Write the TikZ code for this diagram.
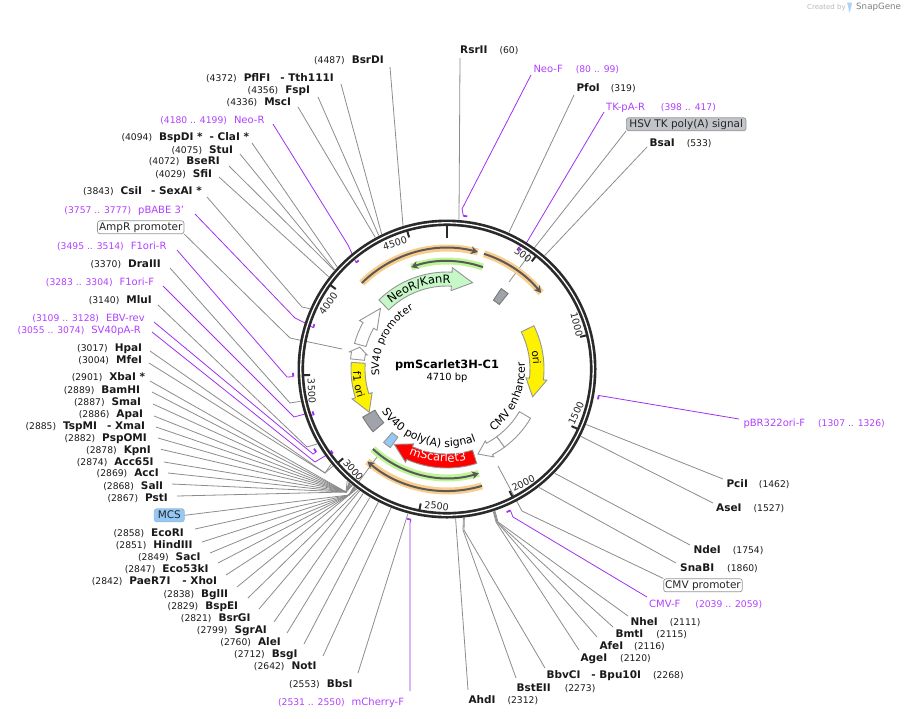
\documentclass[tikz,border=0pt]{standalone}
\usepackage{fontspec}
\setmainfont{DejaVu Sans}
\usetikzlibrary{arrows.meta, decorations.text, positioning}
\definecolor{gsring}{RGB}{42,42,42}
\definecolor{gslead}{RGB}{140,140,140}
\definecolor{gspurple}{RGB}{176,64,255}
\definecolor{gsprimer}{RGB}{160,48,240}
\definecolor{gsorange}{RGB}{250,205,140}
\definecolor{gsgreen}{RGB}{190,245,150}
\definecolor{gsneo}{RGB}{198,247,198}
\definecolor{gsblue}{RGB}{150,200,245}
\definecolor{gsgray}{RGB}{160,164,170}
\definecolor{gsoutline}{RGB}{150,150,150}
\newcommand{\bpnum}[1]{{\fontsize{9.2}{11}\mdseries\selectfont #1}}
\newcommand{\featfont}{\fontsize{10.4}{12}\selectfont}
\newcommand{\midfont}{\fontsize{11}{12}\selectfont}
\newcommand{\largefont}{\fontsize{11.5}{13}\selectfont}
\newcommand{\whitefont}{\fontsize{11.5}{13}\selectfont\color{white}}
% angles run clockwise from the top
\newcommand{\featarrow}[7]{\draw[#1] ([shift={(447,369)}]{#2-90}:{#6}) arc[start angle=#2-90, end angle=#3-90, radius=#6]
    -- ([shift={(447,369)}]{#3-90}:{#6+#7}) -- ([shift={(447,369)}]{#4-90}:{(#5+#6)/2})
    -- ([shift={(447,369)}]{#3-90}:{#5-#7}) -- ([shift={(447,369)}]{#3-90}:{#5})
    arc[start angle=#3-90, end angle=#2-90, radius=#5] -- cycle;}
\newcommand{\featrect}[5]{\draw[#1] ([shift={(447,369)}]{#2-90}:{#5}) arc[start angle=#2-90, end angle=#3-90, radius=#5]
    -- ([shift={(447,369)}]{#3-90}:{#4}) arc[start angle=#3-90, end angle=#2-90, radius=#4] -- cycle;}
\newcommand{\orf}[4]{\draw[#1] ([shift={(447,369)}]{#2-90}:{#4}) arc[start angle=#2-90, end angle=#3-90, radius=#4];
    \draw[orfline] ([shift={(447,369)}]{#2-90}:{#4}) arc[start angle=#2-90, end angle=#3-90, radius=#4];}
\newcommand{\arctext}[5]{\path[decorate, decoration={text along path, text={|#5|#1}, text align=center}]
    ([shift={(447,369)}]{#2-90}:{#4}) arc[start angle=#2-90, end angle=#3-90, radius=#4];}
\newcommand{\primertick}[3]{\draw[primertick] ([shift={(447,369)}]{#1*0.076433-90}:{#3})
    arc[start angle=#1*0.076433-90, end angle=#2*0.076433-90, radius=#3];}
\tikzset{
    cutl/.style={anchor=east, inner sep=0pt, text height=7.6pt, text depth=0pt, text=black!90,
                 font=\fontsize{10.5}{12}\bfseries\selectfont},
    cutr/.style={cutl, anchor=west},
    primerl/.style={anchor=east, inner sep=0pt, text height=7.6pt, text depth=0pt, text=gspurple,
                    font=\fontsize{10}{12}\selectfont},
    primerr/.style={primerl, anchor=west},
    lead/.style={gslead, line width=0.8pt},
    primerlead/.style={gsprimer, line width=0.8pt},
    primertick/.style={gsprimer, line width=1.8pt},
    featlbl/.style={draw=gsoutline, rounded corners=2.5pt, line width=0.7pt, inner xsep=2pt, inner ysep=1.5pt,
                    text height=8pt, text depth=2pt, font=\fontsize{10.5}{12}\selectfont, text=black!85},
    tick/.style={gsring, line width=2pt},
    ticklbl/.style={inner sep=0pt, font=\fontsize{9.6}{11}\selectfont, text=black!85},
    white feat/.style={draw=gsoutline, fill=white, line width=0.9pt},
    yellow feat/.style={draw=gsoutline, fill=yellow, line width=0.9pt},
    neo feat/.style={draw=gsoutline, fill=gsneo, line width=0.9pt},
    red feat/.style={draw=gsoutline, fill=red, line width=0.9pt},
    gray feat/.style={draw=gsoutline!80!black, fill=gsgray, line width=0.9pt},
    blue feat/.style={draw=gsoutline, fill=gsblue, line width=0.9pt},
    orange halo/.style={gsorange, line width=7pt},
    green halo/.style={gsgreen, line width=7pt},
    orfline/.style={black!65, line width=2pt, -{Stealth[length=7pt, width=8pt]}},
}
\begin{document}
\begin{tikzpicture}[x=1pt, y=-1pt]
\useasboundingbox (0,0) rectangle (904,718);
% sites on the ring
\foreach \p in {60,319,533,1462,1527,1754,1860,2111,2115,2116,2120,2268,2273,2312,2553,2642,2712,2760,2799,2821,2829,2838,2842,2847,2849,2851,2858,2867,2868,2869,2874,2878,2882,2885,2886,2887,2889,2901,3004,3017,3140,3370,3843,4029,4072,4075,4094,4336,4356,4372,4487}
    \coordinate (s\p) at ([shift={(447,369)}]{\p*0.076433-90}:150);
\foreach \p/\rad in {80/154,398/140,1307/154,2039/155,2531/155,3055/142,3109/155,3283/141,3495/154,3757/140,4180/140}
    \coordinate (p\p) at ([shift={(447,369)}]{\p*0.076433-90}:\rad);
\coordinate (fanup) at (346,492);
\coordinate (fanlow) at (349,495);
\coordinate (mcsend) at (377,457);
\coordinate (amprend) at (342,349);
\coordinate (hsvend) at (509,282);
\coordinate (cmvend) at (498,466);

% upper left
\node[cutl] (bsrdi) at (384,60) {\bpnum{(4487)}\hspace{7pt}BsrDI};
\node[cutl] (tth) at (334,77.3) {\bpnum{(4372)}\hspace{7pt}PflFI\hspace{10pt}- Tth111I};
\node[cutl] (fspi) at (310.3,89.3) {\bpnum{(4356)}\hspace{7pt}FspI};
\node[cutl] (msci) at (291.3,101.7) {\bpnum{(4336)}\hspace{7pt}MscI};
\node[primerl] (neor) at (264.7,119.3) {\bpnum{(4180 .. 4199)}\hspace{7pt}Neo-R};
\node[cutl] (clai) at (249.3,137) {\bpnum{(4094)}\hspace{7pt}BspDI *\hspace{7pt}- ClaI *};
\node[cutl] (stui) at (233.3,149.3) {\bpnum{(4075)}\hspace{7pt}StuI};
\node[cutl] (bseri) at (220,161) {\bpnum{(4072)}\hspace{7pt}BseRI};
\node[cutl] (sfii) at (212.3,173.3) {\bpnum{(4029)}\hspace{7pt}SfiI};
\node[cutl] (sexai) at (202,191) {\bpnum{(3843)}\hspace{7pt}CsiI\hspace{9pt}- SexAI *};
\node[primerl] (pbabe) at (184.3,209.3) {\bpnum{(3757 .. 3777)}\hspace{7pt}pBABE 3'};
\node[featlbl, fill=white, anchor=east, inner xsep=1.5pt] (ampr) at (184.3,227.3) {AmpR promoter};
\node[primerl] (f1r) at (166.7,245.3) {\bpnum{(3495 .. 3514)}\hspace{7pt}F1ori-R};
\node[cutl] (draiii) at (161,263.3) {\bpnum{(3370)}\hspace{7pt}DraIII};
\node[primerl] (f1f) at (154.3,281.3) {\bpnum{(3283 .. 3304)}\hspace{7pt}F1ori-F};
\node[cutl] (mlui) at (152,299.3) {\bpnum{(3140)}\hspace{7pt}MluI};
\node[primerl] (ebv) at (145,317.7) {\bpnum{(3109 .. 3128)}\hspace{7pt}EBV-rev};
\node[primerl] (svpa) at (141,329.7) {\bpnum{(3055 .. 3074)}\hspace{7pt}SV40pA-R};
\node[cutl] (hpai) at (142.3,347.7) {\bpnum{(3017)}\hspace{7pt}HpaI};
\node[cutl] (mfei) at (142.3,359.7) {\bpnum{(3004)}\hspace{7pt}MfeI};
% the left fan
\node[cutl] (xbai) at (145.3,377) {\bpnum{(2901)}\hspace{7pt}XbaI *};
\node[cutl] (bamhi) at (140.3,389.3) {\bpnum{(2889)}\hspace{7pt}BamHI};
\node[cutl] (smai) at (141.3,401.3) {\bpnum{(2887)}\hspace{7pt}SmaI};
\node[cutl] (apai) at (143.3,413.3) {\bpnum{(2886)}\hspace{7pt}ApaI};
\node[cutl] (xmai) at (145.3,425.3) {\bpnum{(2885)}\hspace{7pt}TspMI\hspace{10pt}- XmaI};
\node[cutl] (pspomi) at (147,437.3) {\bpnum{(2882)}\hspace{7pt}PspOMI};
\node[cutl] (kpni) at (151,449.3) {\bpnum{(2878)}\hspace{7pt}KpnI};
\node[cutl] (acc) at (153.7,461.3) {\bpnum{(2874)}\hspace{7pt}Acc65I};
\node[cutl] (acci) at (159,473) {\bpnum{(2869)}\hspace{7pt}AccI};
\node[cutl] (sali) at (163.3,485.3) {\bpnum{(2868)}\hspace{7pt}SalI};
\node[cutl] (psti) at (168,497.3) {\bpnum{(2867)}\hspace{7pt}PstI};
\node[featlbl, fill=gsblue, draw=gsblue!80!gray, anchor=east, inner xsep=3.5pt] (mcs) at (184.7,515.3) {MCS};
\node[cutl] (ecori) at (184,533) {\bpnum{(2858)}\hspace{7pt}EcoRI};
\node[cutl] (hind) at (192.7,545) {\bpnum{(2851)}\hspace{7pt}HindIII};
\node[cutl] (saci) at (200.7,557) {\bpnum{(2849)}\hspace{7pt}SacI};
\node[cutl] (eco) at (208.7,569) {\bpnum{(2847)}\hspace{7pt}Eco53kI};
\node[cutl] (xhoi) at (217.3,581) {\bpnum{(2842)}\hspace{7pt}PaeR7I\hspace{12pt}- XhoI};
\node[cutl] (bglii) at (228.3,593.3) {\bpnum{(2838)}\hspace{7pt}BglII};
\node[cutl] (bspei) at (238.3,605.3) {\bpnum{(2829)}\hspace{7pt}BspEI};
\node[cutl] (bsrgi) at (250.7,617.3) {\bpnum{(2821)}\hspace{7pt}BsrGI};
\node[cutl] (sgrai) at (267,629.3) {\bpnum{(2799)}\hspace{7pt}SgrAI};
\node[cutl] (alei) at (281,641.3) {\bpnum{(2760)}\hspace{7pt}AleI};
\node[cutl] (bsgi) at (297.7,653.3) {\bpnum{(2712)}\hspace{7pt}BsgI};
\node[cutl] (noti) at (316.7,665.3) {\bpnum{(2642)}\hspace{7pt}NotI};
\node[cutl] (bbsi) at (352.7,683.3) {\bpnum{(2553)}\hspace{7pt}BbsI};
\node[primerl] (mcherry) at (404.3,701.7) {\bpnum{(2531 .. 2550)}\hspace{7pt}mCherry-F};
% right side
\node[cutr] (rsrii) at (460,50) {RsrII\hspace{12pt}\bpnum{(60)}};
\node[primerr] (neof) at (533.3,68.3) {Neo-F\hspace{13pt}\bpnum{(80 .. 99)}};
\node[cutr] (pfoi) at (576.3,87.3) {PfoI\hspace{11pt}\bpnum{(319)}};
\node[primerr] (tk) at (606,106.3) {TK-pA-R\hspace{16pt}\bpnum{(398 .. 417)}};
\node[featlbl, fill=gsgray!65, anchor=west, inner xsep=3pt] (hsv) at (626,124.3) {HSV TK poly(A) signal};
\node[cutr] (bsai) at (649.3,142.3) {BsaI\hspace{12pt}\bpnum{(533)}};
\node[primerr] (pbr) at (743.3,422.3) {pBR322ori-F\hspace{13pt}\bpnum{(1307 .. 1326)}};
\node[cutr] (pcii) at (726.3,483.3) {PciI\hspace{11pt}\bpnum{(1462)}};
\node[cutr] (asei) at (716,508) {AseI\hspace{12pt}\bpnum{(1527)}};
\node[cutr] (ndei) at (693.3,549.3) {NdeI\hspace{12pt}\bpnum{(1754)}};
\node[cutr] (snabi) at (680,567.3) {SnaBI\hspace{13pt}\bpnum{(1860)}};
\node[featlbl, fill=white, anchor=west, inner xsep=1.5pt] (cmvp) at (663.3,585.3) {CMV promoter};
\node[primerr] (cmvf) at (649,603.3) {CMV-F\hspace{15pt}\bpnum{(2039 .. 2059)}};
\node[cutr] (nhei) at (630.3,621.3) {NheI\hspace{12pt}\bpnum{(2111)}};
\node[cutr] (bmti) at (615.3,633.3) {BmtI\hspace{13pt}\bpnum{(2115)}};
\node[cutr] (afei) at (599.3,645.3) {AfeI\hspace{11pt}\bpnum{(2116)}};
\node[cutr] (agei) at (580.3,657.3) {AgeI\hspace{13pt}\bpnum{(2120)}};
\node[cutr] (bbvci) at (546.3,675) {BbvCI\hspace{11pt}- Bpu10I\hspace{12pt}\bpnum{(2268)}};
\node[cutr] (bsteii) at (516.3,687.3) {BstEII\hspace{14pt}\bpnum{(2273)}};
\node[cutr] (ahdi) at (468.3,699.3) {AhdI\hspace{12pt}\bpnum{(2312)}};

% leads
\draw[lead] ([shift={(6,7)}]bsrdi.east) -- (s4487);
\draw[lead] ([shift={(7,6.7)}]tth.east) -- (s4372);
\draw[lead] ([shift={(7.7,7.7)}]fspi.east) -- (s4356);
\draw[lead] ([shift={(6.7,5.3)}]msci.east) -- (s4336);
\draw[lead] ([shift={(2.7,6)}]clai.east) -- (s4094);
\draw[lead] ([shift={(6.7,4.7)}]stui.east) -- (s4075);
\draw[lead] ([shift={(9,5)}]bseri.east) -- (s4072);
\draw[lead] ([shift={(6.7,3.7)}]sfii.east) -- (s4029);
\draw[lead] ([shift={(5,6)}]sexai.east) -- (302,307) -- (s3843);
\draw[lead] (ampr.south east) -- (290,338) -- (amprend);
\draw[lead] ([shift={(9,4.7)}]draiii.east) -- (290,403) -- (s3370);
\draw[lead] ([shift={(6,5.7)}]mlui.east) -- (307,447) -- (s3140);
\draw[lead] ([shift={(7.7,3.3)}]hpai.east) -- (325,473) -- (s3017);
\draw[lead] ([shift={(6.7,3.3)}]mfei.east) -- (325,473) -- (s3004);
\draw[lead] ([shift={(4.7,4)}]xbai.east) -- (fanup) -- (s2901);
\draw[lead] ([shift={(11.7,2.7)}]bamhi.east) -- (fanup) -- (s2889);
\draw[lead] ([shift={(11.7,2.7)}]smai.east) -- (fanup) -- (s2887);
\draw[lead] ([shift={(10.7,2.7)}]apai.east) -- (fanup) -- (s2886);
\draw[lead] ([shift={(10.7,1.7)}]xmai.east) -- (fanup) -- (s2885);
\draw[lead] ([shift={(11,0.7)}]pspomi.east) -- (fanup) -- (s2882);
\draw[lead] ([shift={(10,0)}]kpni.east) -- (fanup) -- (s2878);
\draw[lead] ([shift={(10.3,0.7)}]acc.east) -- (fanup) -- (s2874);
\draw[lead] ([shift={(9,0)}]acci.east) -- (fanup) -- (s2869);
\draw[lead] ([shift={(8.7,-1.3)}]sali.east) -- (fanup) -- (s2868);
\draw[lead] ([shift={(9,-1.3)}]psti.east) -- (fanup) -- (s2867);
\draw[lead] (mcs.east) -- (fanlow) -- (mcsend);
\draw[lead] ([shift={(11,-4)}]ecori.east) -- (fanlow) -- (s2858);
\draw[lead] ([shift={(9.3,-3)}]hind.east) -- (fanlow) -- (s2851);
\draw[lead] ([shift={(9.3,-4)}]saci.east) -- (fanlow) -- (s2849);
\draw[lead] ([shift={(9.3,-6)}]eco.east) -- (fanlow) -- (s2847);
\draw[lead] ([shift={(8.7,-6)}]xhoi.east) -- (fanlow) -- (s2842);
\draw[lead] ([shift={(8.7,-6.3)}]bglii.east) -- (fanlow) -- (s2838);
\draw[lead] ([shift={(9.7,-7.3)}]bspei.east) -- (s2829);
\draw[lead] ([shift={(8.3,-8.3)}]bsrgi.east) -- (s2821);
\draw[lead] ([shift={(7,-7.3)}]sgrai.east) -- (s2799);
\draw[lead] ([shift={(6,-8.3)}]alei.east) -- (s2760);
\draw[lead] ([shift={(6.3,-9.3)}]bsgi.east) -- (s2712);
\draw[lead] ([shift={(6.3,-9.3)}]noti.east) -- (s2642);
\draw[lead] ([shift={(5.3,-10.3)}]bbsi.east) -- (s2553);
\draw[lead] ([shift={(0,8)}]rsrii.west) -- (s60);
\draw[lead] ([shift={(-2.3,7.7)}]pfoi.west) -- (s319);
\draw[lead] (hsv.south west) -- (535,247) -- (hsvend);
\draw[lead] ([shift={(-2.3,4.7)}]bsai.west) -- (s533);
\draw[lead] ([shift={(-3.3,-4.3)}]pcii.west) -- (s1462);
\draw[lead] ([shift={(-3,-5)}]asei.west) -- (s1527);
\draw[lead] ([shift={(-3.3,-4.3)}]ndei.west) -- (s1754);
\draw[lead] ([shift={(-4,-4.3)}]snabi.west) -- (s1860);
\draw[lead] (cmvp.north west) -- (522,511) -- (cmvend);
\draw[lead] ([shift={(-2.3,-5.3)}]nhei.west) -- (498,522) -- (s2111);
\draw[lead] ([shift={(-2.3,-6.3)}]bmti.west) -- (497,522) -- (s2115);
\draw[lead] ([shift={(-2.3,-8.3)}]afei.west) -- (497,522) -- (s2116);
\draw[lead] ([shift={(-1.3,-7.3)}]agei.west) -- (496,522) -- (s2120);
\draw[lead] ([shift={(-1.3,-7)}]bbvci.west) -- (464,530) -- (s2268);
\draw[lead] ([shift={(-0.3,-9.3)}]bsteii.west) -- (463,530) -- (s2273);
\draw[lead] ([shift={(-0.3,-9.3)}]ahdi.west) -- (s2312);
% primer leads
\draw[primerlead] ([shift={(8.3,4.7)}]neor.east) -- (348,245) -- (p4180);
\draw[primerlead] ([shift={(10.7,4.7)}]pbabe.east) -- (295,318) -- (305,323) -- (p3757);
\draw[primerlead] ([shift={(10.3,4.7)}]f1r.east) -- (287,377) -- (p3495);
\draw[primerlead] ([shift={(8.7,4.7)}]f1f.east) -- (294,417) -- (305,414) -- (p3283);
\draw[primerlead] ([shift={(9,4.3)}]ebv.east) -- (313,454) -- (p3109);
\draw[primerlead] ([shift={(11,2.3)}]svpa.east) -- (315,462) -- (330,453) -- (p3055);
\draw[primerlead] ([shift={(5.7,-10.7)}]mcherry.east) -- (410,523) -- (p2531);
\draw[primerlead] ([shift={(-2.3,6.7)}]neof.west) -- (462,209) -- (p80);
\draw[primerlead] ([shift={(-2,5.7)}]tk.west) -- (527,242) -- (p398);
\draw[primerlead] ([shift={(-4.3,-3.3)}]pbr.west) -- (p1307);
\draw[primerlead] ([shift={(-2,-6.3)}]cmvf.west) -- (513,517) -- (p2039);

% the ring
\draw[gsring, line width=6.6pt] (447,369) circle[radius=146.2];
\draw[white, line width=1.3pt] (447,369) circle[radius=146.2];
\draw[gsring, line width=2.7pt] (447,225) -- (447,238);
\foreach \a in {500,1000,1500,2000,2500,3000,3500,4000,4500}
    \draw[tick] ([shift={(447,369)}]{\a*0.076433-90}:144) -- ([shift={(447,369)}]{\a*0.076433-90}:137);
\node[ticklbl, rotate=-38] (t500) at (523,255) {500};
\node[ticklbl, rotate=-76] (t1000) at (576.7,325) {1000};
\node[ticklbl, rotate=65] (t1500) at (576,413.3) {1500};
\node[ticklbl, rotate=27] (t2000) at (523.3,483.3) {2000};
\node[ticklbl, rotate=-5] (t2500) at (436.7,506) {2500};
\node[ticklbl, rotate=-49] (t3000) at (353.3,470) {3000};
\node[ticklbl, rotate=-87] (t3500) at (311.7,391) {3500};
\node[ticklbl, rotate=54] (t4000) at (328.3,303.3) {4000};
\node[ticklbl, rotate=16] (t4500) at (395,243.3) {4500};

% primer marks
\primertick{80}{99}{154}
\primertick{398}{417}{140}
\primertick{1307}{1326}{154}
\primertick{2039}{2059}{155}
\primertick{2531}{2550}{155}
\primertick{3055}{3074}{142}
\primertick{3109}{3128}{155}
\primertick{3283}{3304}{141}
\primertick{3495}{3514}{154}
\primertick{3757}{3777}{140}
\primertick{4180}{4199}{140}

% open reading frames
\orf{orange halo}{-44.7}{14.8}{121}
\orf{orange halo}{17.8}{51}{121}
\orf{orange halo}{163.3}{220.7}{122}
\orf{green halo}{19.4}{-19.4}{108}
\orf{green halo}{222.8}{163}{109}

% features
\featarrow{neo feat}{-44.6}{3}{16.5}{83}{97}{4.5}
\featarrow{white feat}{-74.5}{-61}{-47.7}{84}{96}{4}
\featarrow{white feat}{-84}{-80}{-76}{83}{97}{2}
\featarrow{yellow feat}{63.5}{96.4}{108}{83}{97}{3.5}
\featarrow{yellow feat}{274}{252.5}{241}{82}{96}{3.5}
\featarrow{red feat}{162.5}{204}{215}{85}{99}{3}
\featrect{white feat}{120.5}{143.7}{84}{97}
\featarrow{white feat}{143.7}{152}{160}{84}{97}{2.5}
\featrect{gray feat}{34}{39}{83}{97}
\featrect{gray feat}{229.7}{240.3}{83}{97}
\featrect{blue feat}{215.8}{220.8}{84}{97}

% text along the arcs
\arctext{NeoR/KanR}{-50}{12}{86}{\largefont}
\arctext{SV40 promoter}{-100}{-25}{68}{\featfont}
\arctext{f1 ori}{280}{240}{94}{\featfont}
\arctext{ori}{60}{105}{86.5}{\featfont}
\arctext{CMV enhancer}{150}{78}{78}{\midfont}
\arctext{SV40 poly(A) signal}{245}{150}{78}{\midfont}
\arctext{mScarlet3}{216}{156}{93}{\whitefont}

% the name of the plasmid
\node[inner sep=0pt, font=\fontsize{11.4}{13}\bfseries\selectfont] (title) at (447,365.3) {pmScarlet3H-C1};
\node[inner sep=0pt, font=\fontsize{9.9}{12}\selectfont] (size) at (447,377.3) {4710 bp};

% credit
\node[inner sep=0pt, anchor=west, text=black!28, font=\fontsize{7}{8}\selectfont] (created) at (807,7.5) {Created by};
\fill[gsblue!80] (847,2.5) -- (852,2.5) -- (851,8) -- (849,13) -- (848.5,8) -- cycle;
\node[inner sep=0pt, anchor=west, text=black!50, font=\fontsize{8.7}{10}\selectfont] (snapgene) at (856,7.5) {SnapGene};
\end{tikzpicture}
\end{document}
